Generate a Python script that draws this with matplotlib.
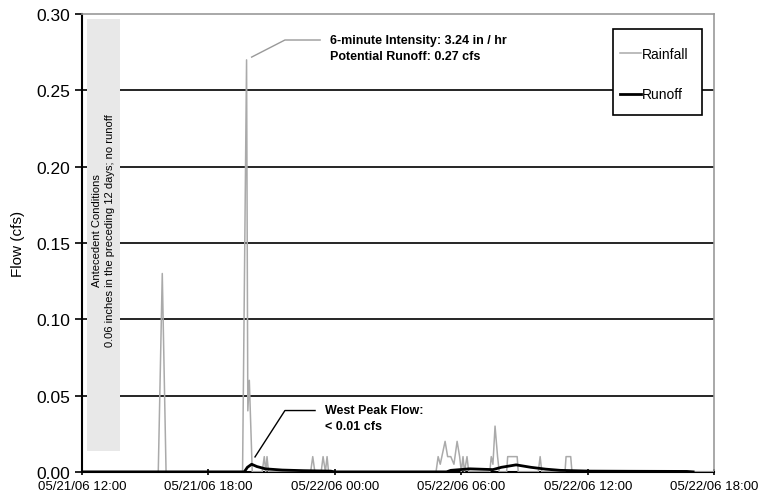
import datetime as dt
import matplotlib
matplotlib.use("Agg")
import matplotlib.pyplot as plt
import matplotlib.dates as mdates
from matplotlib.patches import Rectangle

plt.rcParams['font.family'] = ['Liberation Sans', 'DejaVu Sans']

# time in hours after 05/21/06 12:00
start = dt.datetime(2006, 5, 21, 12, 0)

rain_hours = [0, 3.62, 3.81, 3.99,
              7.62, 7.81, 7.87, 7.94, 8.08,
              8.55, 8.65, 8.72, 8.78, 8.85,
              10.85, 10.95, 11.05, 11.35, 11.44, 11.55, 11.63, 11.7,
              16.8, 16.9, 17.0, 17.23, 17.35, 17.5, 17.65, 17.8, 17.92, 18.0,
              18.08, 18.15, 18.27, 18.35,
              19.35, 19.42, 19.5, 19.6, 19.72, 19.8,
              20.15, 20.2, 20.65, 20.7, 21.65, 21.74, 21.82,
              22.92, 22.97, 23.19, 23.25, 30]
rain_vals = [0, 0, 0.13, 0,
             0, 0.27, 0.04, 0.06, 0,
             0, 0.01, 0, 0.01, 0,
             0, 0.01, 0, 0, 0.01, 0, 0.01, 0,
             0, 0.01, 0.005, 0.02, 0.01, 0.01, 0.005, 0.02, 0.01, 0,
             0.01, 0, 0.01, 0,
             0, 0.01, 0.005, 0.03, 0.01, 0,
             0, 0.01, 0.01, 0, 0, 0.01, 0,
             0, 0.01, 0.01, 0, 0]

runoff_hours = [0, 7.7, 7.85, 8.05, 8.3, 8.7, 9.5, 10.5, 11.8, 12.0,
                17.3, 17.5, 18.4, 19.5, 19.9, 20.6, 21.3, 22.0, 22.7,
                24.1, 26.0, 28.7, 29.0]
runoff_vals = [0, 0, 0.003, 0.005, 0.0035, 0.002, 0.0012, 0.0008, 0.0005, 0,
               0, 0.001, 0.002, 0.0015, 0.003, 0.0046, 0.003, 0.0018, 0.001,
               0.0005, 0.0004, 0.0003, 0]

y_ticks = [0.00, 0.05, 0.10, 0.15, 0.20, 0.25, 0.30]
grid_levels = [0.05, 0.10, 0.15, 0.20, 0.25]

peak_note = "6-minute Intensity: 3.24 in / hr\nPotential Runoff: 0.27 cfs"
flow_note = "West Peak Flow:\n< 0.01 cfs"
box_note = "Antecedent Conditions\n0.06 inches in the preceding 12 days; no runoff"


def to_time(hours):
    return [start + dt.timedelta(hours=h) for h in hours]


def hnum(h):
    return mdates.date2num(start + dt.timedelta(hours=h))


fig = plt.figure(figsize=(7.59, 5.02), dpi=100)
ax = fig.add_axes([0.108, 0.058, 0.833, 0.912])

for lv in grid_levels:
    ax.axhline(lv, color='black', lw=1.2, zorder=1)

# antecedent conditions box
ax.add_patch(Rectangle((hnum(0.24), 0.0138), hnum(1.80) - hnum(0.24), 0.2829,
                       facecolor='#e8e8e8', edgecolor='none', zorder=2))
ax.text(hnum(1.02), 0.1585, box_note, rotation=90, ha='center', va='center',
        fontsize=8, linespacing=1.35, zorder=3)

ax.plot(to_time(rain_hours), rain_vals, color='#aaaaaa', lw=1.1,
        label='Rainfall', zorder=4)
ax.plot(to_time(runoff_hours), runoff_vals, color='black', lw=2.0,
        label='Runoff', zorder=5)

# leader lines for notes
ax.plot(to_time([8.05, 9.63, 11.3]), [0.2718, 0.283, 0.283], color='#999999',
        lw=1.0, zorder=5)
ax.text(hnum(11.77), 0.2775, peak_note, ha='left', va='center', fontsize=9,
        fontweight='bold', linespacing=1.45)
ax.plot(to_time([8.21, 9.63, 11.06]), [0.0098, 0.0402, 0.0402], color='black',
        lw=1.0, zorder=5)
ax.text(hnum(11.53), 0.0352, flow_note, ha='left', va='center', fontsize=9,
        fontweight='bold', linespacing=1.45)

ax.set_xlim(start, start + dt.timedelta(hours=30))
ax.set_ylim(0, 0.30)
ax.set_yticks(y_ticks)
ax.set_yticklabels(['%.2f' % v for v in y_ticks], fontsize=12.5)
ax.xaxis.set_major_locator(mdates.HourLocator(byhour=[0, 6, 12, 18]))
ax.xaxis.set_major_formatter(mdates.DateFormatter('%m/%d/%y %H:%M'))
ax.tick_params(axis='x', labelsize=9.5, length=4, width=1.2, direction='inout')
ax.tick_params(axis='y', length=5, width=1.2, direction='out')
ax.set_ylabel('Flow (cfs)', fontsize=11, labelpad=8)

for s in ['left', 'bottom']:
    ax.spines[s].set_linewidth(1.5)
    ax.spines[s].set_color('black')
for s in ['top', 'right']:
    ax.spines[s].set_linewidth(1.2)
    ax.spines[s].set_color('#999999')

# legend frame drawn separately so its height can differ from the entries
ax.add_patch(Rectangle((0.84, 0.7795), 0.141, 0.1875, transform=ax.transAxes,
                       facecolor='white', edgecolor='black', lw=1.2,
                       zorder=6))
leg = ax.legend(loc='upper left', bbox_to_anchor=(0.84, 0.943), fontsize=10,
                handlelength=1.5, handletextpad=0.1, labelspacing=1.9,
                borderpad=0.5, borderaxespad=0, frameon=False)
leg.set_zorder(7)

fig.savefig('out.png', dpi=100)
